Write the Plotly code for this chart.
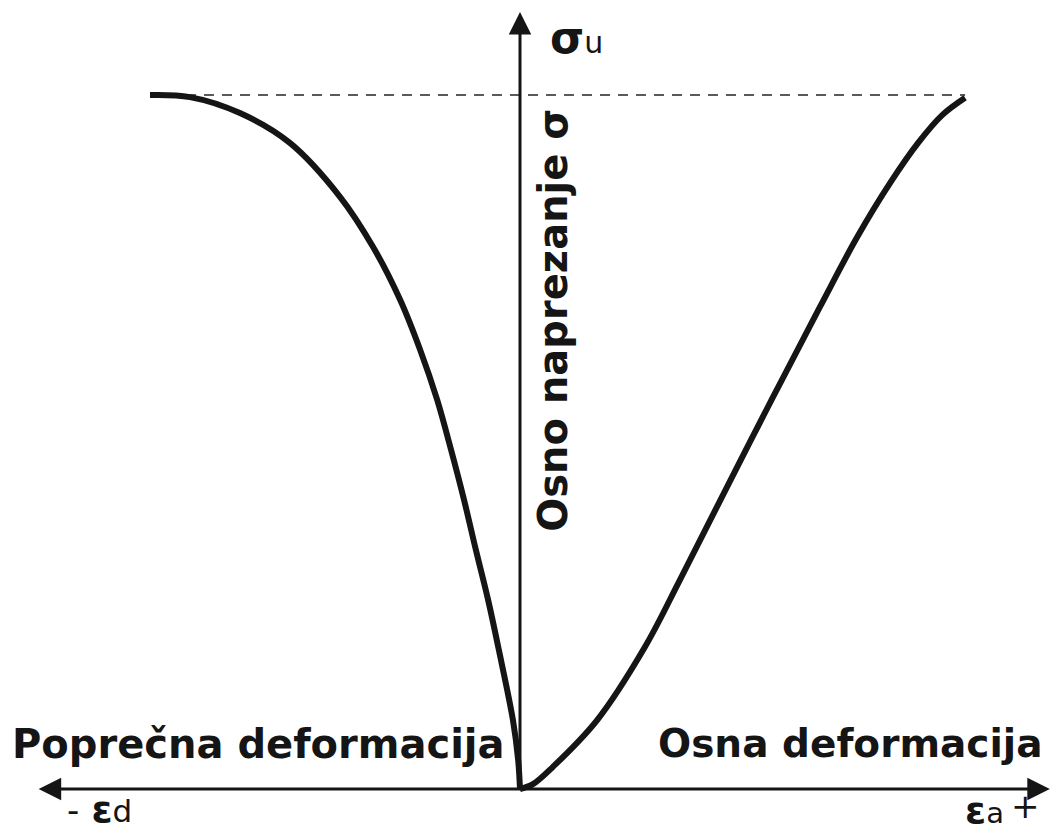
import plotly.graph_objects as go

# poprecna (lijeva) krivulja: deformacija -> naprezanje (normirano na sigma_u)
eps_d = [-1.000, -0.892, -0.757, -0.622, -0.486, -0.397, -0.324, -0.270,
         -0.224, -0.186, -0.151, -0.119, -0.086, -0.057, -0.019, -0.005, 0.0]
sig_d = [1.000, 0.997, 0.974, 0.931, 0.853, 0.781, 0.705, 0.633,
         0.561, 0.488, 0.416, 0.344, 0.272, 0.200, 0.099, 0.042, 0.0]

# osna (desna) krivulja
eps_a = [0.0, 0.035, 0.089, 0.208, 0.338, 0.432, 0.546, 0.684, 0.811,
         0.911, 1.000, 1.076, 1.141, 1.203]
sig_a = [0.0, 0.007, 0.032, 0.099, 0.205, 0.301, 0.421, 0.565, 0.695,
         0.795, 0.873, 0.931, 0.971, 0.996]

sigma_u = 1.0
# the page puts an 8px body margin round the plot, ranges take that into account
x_min, x_max = -1.3838, 1.4811
y_min, y_max = -0.0706, 1.1254

ink = "#151515"
font = "DejaVu Sans"

fig = go.Figure()

# granica cvrstoce
fig.add_trace(go.Scatter(
    x=[eps_d[0], eps_a[-1]], y=[sigma_u, sigma_u],
    mode="lines", line=dict(color="#5a5a5a", width=2, dash="10px,8px"),
    hoverinfo="skip"))

fig.add_trace(go.Scatter(
    x=eps_d, y=sig_d, mode="lines",
    line=dict(color=ink, width=6, shape="spline", smoothing=1),
    hoverinfo="skip"))
fig.add_trace(go.Scatter(
    x=eps_a, y=sig_a, mode="lines",
    line=dict(color=ink, width=6, shape="spline", smoothing=1),
    hoverinfo="skip"))

# osi sa strelicama
fig.add_annotation(x=1.432, y=0, ax=-1.305, ay=0, xref="x", yref="y",
                   axref="x", ayref="y", showarrow=True, arrowhead=2,
                   arrowside="end+start", arrowwidth=3, arrowsize=1.5,
                   arrowcolor=ink, text="")
fig.add_annotation(x=0, y=1.1196, ax=0, ay=0, xref="x", yref="y",
                   axref="x", ayref="y", showarrow=True, arrowhead=2,
                   arrowwidth=3, arrowsize=1.5, arrowcolor=ink, text="")

fig.add_annotation(x=-1.378, y=0.065, text="<b>Poprečna deformacija</b>",
                   showarrow=False, xanchor="left", yanchor="middle",
                   font=dict(family=font, size=40, color=ink))
fig.add_annotation(x=1.4189, y=0.065, text="<b>Osna deformacija</b>",
                   showarrow=False, xanchor="right", yanchor="middle",
                   font=dict(family=font, size=39, color=ink))
fig.add_annotation(x=0.089, y=0.676, text="<b>Osno naprezanje σ</b>",
                   textangle=-90, showarrow=False,
                   xanchor="center", yanchor="middle",
                   font=dict(family=font, size=40, color=ink))
fig.add_annotation(x=0.076, y=1.083,
                   text="<b>σ</b><span style='font-size:30px'>u</span>",
                   showarrow=False, xanchor="left", yanchor="middle",
                   font=dict(family=font, size=44, color=ink))
fig.add_annotation(x=-1.2297, y=-0.0288,
                   text="<span style='font-size:34px'>-</span> <b>ε</b>"
                        "<span style='font-size:31px'>d</span>",
                   showarrow=False, xanchor="left", yanchor="middle",
                   font=dict(family=font, size=38, color=ink))
fig.add_annotation(x=1.197, y=-0.0300,
                   text="<b>ε</b><span style='font-size:29px'>a</span>",
                   showarrow=False, xanchor="left", yanchor="middle",
                   font=dict(family=font, size=38, color=ink))
fig.add_annotation(x=1.365, y=-0.025, text="+",
                   showarrow=False, xanchor="center", yanchor="middle",
                   font=dict(family=font, size=34, color=ink))

fig.update_layout(
    width=1060, height=830,
    margin=dict(l=0, r=0, t=0, b=0),
    paper_bgcolor="white", plot_bgcolor="white",
    showlegend=False,
    xaxis=dict(range=[x_min, x_max], visible=False, fixedrange=True),
    yaxis=dict(range=[y_min, y_max], visible=False, fixedrange=True),
)

fig.write_html("out.html")
